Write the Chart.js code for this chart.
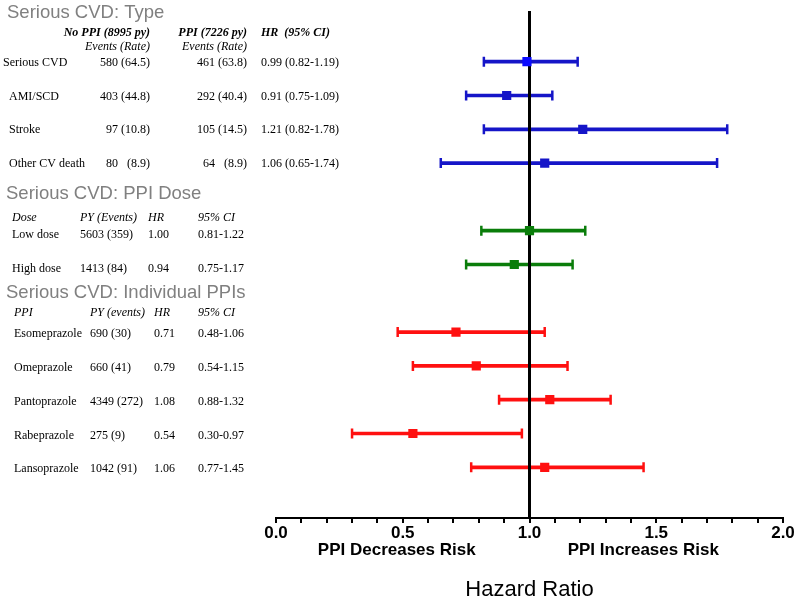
<!DOCTYPE html>
<html>
<head>
<meta charset="utf-8">
<script src="https://cdn.jsdelivr.net/npm/chart.js@4.4.1/dist/chart.umd.min.js"></script>
<style>
  html, body { margin: 0; padding: 0; background: #fff; }
  #wrap { width: 800px; height: 607px; position: relative; }
</style>
</head>
<body>
<div id="wrap"><canvas id="forest"></canvas></div>
<script>
// Serious CVD by type
const typeRows = ['Serious CVD', 'AMI/SCD', 'Stroke', 'Other CV death'];
const typeNoPPI = ['580 (64.5)', '403 (44.8)', '97 (10.8)', '80   (8.9)'];
const typePPI = ['461 (63.8)', '292 (40.4)', '105 (14.5)', '64   (8.9)'];
const typeHR = [0.99, 0.91, 1.21, 1.06];
const typeLo = [0.82, 0.75, 0.82, 0.65];
const typeHi = [1.19, 1.09, 1.78, 1.74];

// by PPI dose
const doseRows = ['Low dose', 'High dose'];
const dosePY = ['5603 (359)', '1413 (84)'];
const doseHR = [1.00, 0.94];
const doseLo = [0.81, 0.75];
const doseHi = [1.22, 1.17];

// individual PPIs
const ppiRows = ['Esomeprazole', 'Omeprazole', 'Pantoprazole', 'Rabeprazole', 'Lansoprazole'];
const ppiPY = ['690 (30)', '660 (41)', '4349 (272)', '275 (9)', '1042 (91)'];
const ppiHR = [0.71, 0.79, 1.08, 0.54, 1.06];
const ppiLo = [0.48, 0.54, 0.88, 0.30, 0.77];
const ppiHi = [1.06, 1.15, 1.32, 0.97, 1.45];

const BLUE = '#1515c8';
const GREEN = '#0a7d0a';
const RED = '#ff1010';

// flatten everything into one row list (blank rows are spacers)
const rows = [], hr = [], lo = [], hi = [], lineColors = [], markColors = [];
const groupStart = {};

function addBlank() {
    rows.push('');
    hr.push(null); lo.push(null); hi.push(null);
    lineColors.push('rgba(0,0,0,0)');
    markColors.push('rgba(0,0,0,0)');
}

function addGroup(key, names, h, l, u, color, firstMark) {
    groupStart[key] = rows.length;
    names.forEach((n, i) => {
        rows.push(n);
        hr.push(h[i]); lo.push(l[i]); hi.push(u[i]);
        lineColors.push(color);
        markColors.push(i === 0 && firstMark ? firstMark : color);
    });
}

addBlank();
addGroup('type', typeRows, typeHR, typeLo, typeHi, BLUE, '#0a0aff');
addBlank();
addGroup('dose', doseRows, doseHR, doseLo, doseHi, GREEN);
addBlank();
addGroup('ppi', ppiRows, ppiHR, ppiLo, ppiHi, RED);
addBlank();

const ciRanges = lo.map((v, i) => v == null ? null : [v, hi[i]]);

const f2 = v => v.toFixed(2);

// vertical reference line at HR = 1, drawn right after the CI bars
const refLine = {
    id: 'refLine',
    afterDatasetDraw(chart, args) {
        if (args.index !== 0) return;
        const { ctx, chartArea } = chart;
        const x = chart.scales.x.getPixelForValue(1);
        ctx.save();
        ctx.strokeStyle = '#000';
        ctx.lineWidth = 3;
        ctx.beginPath();
        ctx.moveTo(x, chartArea.top);
        ctx.lineTo(x, chartArea.bottom);
        ctx.stroke();
        ctx.restore();
    }
};

// left-hand text table + risk labels under the axis
const table = {
    id: 'table',
    afterDraw(chart) {
        const ctx = chart.ctx;
        const ys = chart.scales.y;
        const xs = chart.scales.x;
        const rowY = i => ys.getPixelForValue(i);
        const serif = '"Liberation Serif", "Times New Roman", serif';
        ctx.save();
        ctx.textBaseline = 'middle';

        // section headings
        ctx.font = '18.5px "Liberation Sans", Arial, sans-serif';
        ctx.fillStyle = '#808080';
        ctx.textAlign = 'left';
        ctx.fillText('Serious CVD: Type', 7, 13);
        ctx.fillText('Serious CVD: PPI Dose', 6, 194);
        ctx.fillText('Serious CVD: Individual PPIs', 6, 293);

        ctx.fillStyle = '#000';

        // type section headers
        ctx.font = 'italic bold 12px ' + serif;
        ctx.textAlign = 'right';
        ctx.fillText('No PPI (8995 py)', 150, 33);
        ctx.fillText('PPI (7226 py)', 247, 33);
        ctx.textAlign = 'left';
        ctx.fillText('HR  (95% CI)', 261, 33);
        ctx.font = 'italic 12px ' + serif;
        ctx.textAlign = 'right';
        ctx.fillText('Events (Rate)', 150, 47);
        ctx.fillText('Events (Rate)', 247, 47);

        ctx.font = '12px ' + serif;
        typeRows.forEach((n, i) => {
            const y = rowY(groupStart.type + i) + 1;
            ctx.textAlign = 'left';
            ctx.fillText(n, i === 0 ? 3 : 9, y);
            ctx.fillText(f2(typeHR[i]) + ' (' + f2(typeLo[i]) + '-' + f2(typeHi[i]) + ')', 261, y);
            ctx.textAlign = 'right';
            ctx.fillText(typeNoPPI[i], 150, y);
            ctx.fillText(typePPI[i], 247, y);
        });

        // dose section
        ctx.textAlign = 'left';
        ctx.font = 'italic 12px ' + serif;
        ctx.fillText('Dose', 12, 218);
        ctx.fillText('PY (Events)', 80, 218);
        ctx.fillText('HR', 148, 218);
        ctx.fillText('95% CI', 198, 218);
        ctx.font = '12px ' + serif;
        doseRows.forEach((n, i) => {
            const y = rowY(groupStart.dose + i) + 4;
            ctx.fillText(n, 12, y);
            ctx.fillText(dosePY[i], 80, y);
            ctx.fillText(f2(doseHR[i]), 148, y);
            ctx.fillText(f2(doseLo[i]) + '-' + f2(doseHi[i]), 198, y);
        });

        // individual PPI section
        ctx.font = 'italic 12px ' + serif;
        ctx.fillText('PPI', 14, 313);
        ctx.fillText('PY (events)', 90, 313);
        ctx.fillText('HR', 154, 313);
        ctx.fillText('95% CI', 198, 313);
        ctx.font = '12px ' + serif;
        ppiRows.forEach((n, i) => {
            const y = rowY(groupStart.ppi + i) + 2;
            ctx.fillText(n, 14, y);
            ctx.fillText(ppiPY[i], 90, y);
            ctx.fillText(f2(ppiHR[i]), 154, y);
            ctx.fillText(f2(ppiLo[i]) + '-' + f2(ppiHi[i]), 198, y);
        });

        // direction labels
        ctx.font = 'bold 17px "Liberation Sans", Arial, sans-serif';
        ctx.textAlign = 'center';
        ctx.fillText('PPI Decreases Risk', xs.getPixelForValue(0.5) - 6, 550);
        ctx.fillText('PPI Increases Risk', xs.getPixelForValue(1.5) - 13, 550);
        ctx.restore();
    }
};

const ctx = document.getElementById('forest').getContext('2d');
new Chart(ctx, {
    type: 'bar',
    data: {
        labels: rows,
        datasets: [
            {
                // confidence intervals
                data: ciRanges,
                indexAxis: 'y',
                backgroundColor: lineColors,
                borderWidth: 0,
                barThickness: 3,
                order: 3
            },
            {
                type: 'line',
                data: lo,
                indexAxis: 'y',
                showLine: false,
                pointStyle: 'line',
                rotation: 90,
                pointRadius: 5,
                pointBorderWidth: 2.5,
                pointBorderColor: lineColors,
                order: 2
            },
            {
                type: 'line',
                data: hi,
                indexAxis: 'y',
                showLine: false,
                pointStyle: 'line',
                rotation: 90,
                pointRadius: 5,
                pointBorderWidth: 2.5,
                pointBorderColor: lineColors,
                order: 2
            },
            {
                // hazard ratio point estimates
                type: 'line',
                data: hr,
                indexAxis: 'y',
                showLine: false,
                pointStyle: 'rect',
                pointRadius: 6.5,
                pointBorderWidth: 0,
                pointBackgroundColor: markColors,
                order: 1
            }
        ]
    },
    options: {
        indexAxis: 'y',
        responsive: true,
        maintainAspectRatio: false,
        animation: false,
        events: [],
        layout: { padding: { left: 276, right: 17, top: 11, bottom: 0 } },
        plugins: {
            legend: { display: false },
            tooltip: { enabled: false }
        },
        scales: {
            y: {
                type: 'category',
                display: false,
                offset: true
            },
            x: {
                type: 'linear',
                position: 'bottom',
                min: 0,
                max: 2,
                afterFit: scale => { scale.height = 89; },
                border: { display: true, color: '#000', width: 2 },
                grid: {
                    drawOnChartArea: false,
                    drawTicks: true,
                    tickLength: 5,
                    color: '#000',
                    lineWidth: 2
                },
                ticks: {
                    stepSize: 0.1,
                    autoSkip: false,
                    maxRotation: 0,
                    padding: 0,
                    color: '#000',
                    font: { family: '"Liberation Sans", Arial, sans-serif', size: 17, weight: 'bold' },
                    callback: v => Math.abs(v * 2 - Math.round(v * 2)) < 1e-6 ? v.toFixed(1) : ''
                },
                title: {
                    display: true,
                    text: 'Hazard Ratio',
                    color: '#000',
                    font: { family: '"Liberation Sans", Arial, sans-serif', size: 22 },
                    padding: { top: 0, bottom: 4 }
                }
            }
        }
    },
    plugins: [refLine, table]
});
</script>
</body>
</html>
